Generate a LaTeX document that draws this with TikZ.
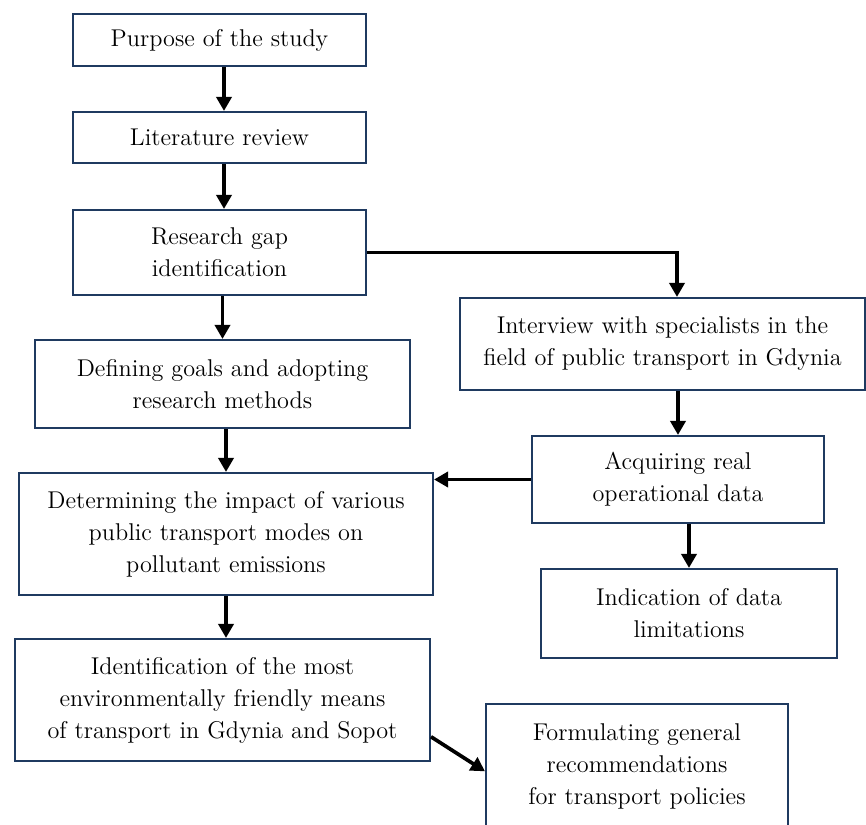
\documentclass[tikz,border=0pt]{standalone}
\usepackage{tikz}
\usetikzlibrary{arrows.meta}
\definecolor{boxblue}{HTML}{1F3A60}
\tikzset{
	stage/.style={draw=boxblue, line width=1.2pt, fill=white, align=center, inner sep=0pt,
		font=\fontsize{13.8}{18.2}\selectfont},
	flow/.style={line width=2.1pt, -{Triangle[length=2.8mm,width=3mm]}}
}

\begin{document}
\begin{tikzpicture}[x=0.02cm, y=-0.02cm]
			%%%%% START %%%%%
			\useasboundingbox (0, 0) rectangle (866, 825);
			
			\node[stage, minimum width=5.86cm, minimum height=1.04cm] (purpose) at (219.5, 40) {Purpose of the study};
			\node[stage, minimum width=5.86cm, minimum height=1.02cm] (review) at (219.5, 137.5) {Literature review};
			\node[stage, minimum width=5.86cm, minimum height=1.70cm] (gap) at (219.5, 252.5) {Research gap\\identification};
			\node[stage, minimum width=8.10cm, minimum height=1.84cm] (interview) at (662.5, 344) {Interview with specialists in the\\field of public transport in Gdynia};
			\node[stage, minimum width=7.50cm, minimum height=1.76cm] (goals) at (222.5, 384) {Defining goals and adopting\\research methods};
			\node[stage, minimum width=8.28cm, minimum height=2.44cm] (impact) at (226, 534) {Determining the impact of various\\public transport modes on\\pollutant emissions};
			\node[stage, minimum width=5.84cm, minimum height=1.74cm] (data) at (678, 479.5) {Acquiring real\\operational data};
			\node[stage, minimum width=5.92cm, minimum height=1.78cm] (limits) at (689, 613.5) {Indication of data\\limitations};
			\node[stage, minimum width=8.30cm, minimum height=2.44cm] (friendly) at (222.5, 700) {Identification of the most\\environmentally friendly means\\of transport in Gdynia and Sopot};
			\node[stage, minimum width=6.04cm, minimum height=2.48cm] (policy) at (637, 766) {Formulating general\\recommendations\\for transport policies};
			
			\draw[flow] ([xshift=0.09cm]purpose.south) -- ([xshift=0.09cm]review.north);
			\draw[flow] ([xshift=0.09cm]review.south) -- ([xshift=0.09cm]gap.north);
			\draw[flow] (gap.east) -| ([xshift=0.29cm]interview.north);
			\draw[flow] (goals.north |- gap.south) -- (goals.north);
			\draw[flow] (impact.north |- goals.south) -- (impact.north);
			\draw[flow] (data.north |- interview.south) -- (data.north);
			\draw[flow] (data.west) -- (data.west -| impact.east);
			\draw[flow] (limits.north |- data.south) -- (limits.north);
			\draw[flow] (impact.south) -- (impact.south |- friendly.north);
			\draw[flow] (friendly.-10.4) -- (policy.182);
			%%%%% END %%%%%
\end{tikzpicture}
\end{document}
